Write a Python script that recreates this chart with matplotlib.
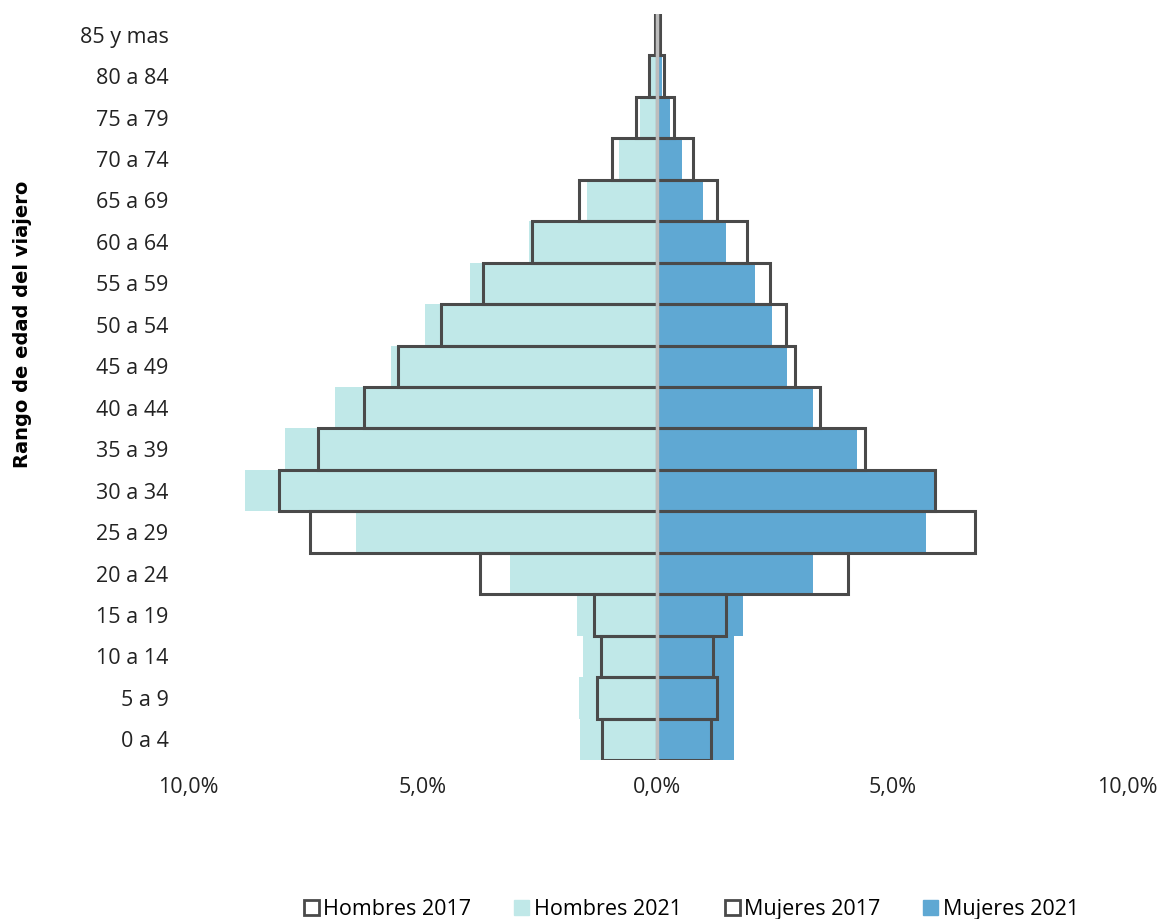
import numpy as np
import matplotlib.pyplot as plt
from matplotlib.patches import Patch
from matplotlib.ticker import FuncFormatter

# age groups, bottom to top
grupos = ['0 a 4', '5 a 9', '10 a 14', '15 a 19', '20 a 24', '25 a 29', '30 a 34',
          '35 a 39', '40 a 44', '45 a 49', '50 a 54', '55 a 59', '60 a 64',
          '65 a 69', '70 a 74', '75 a 79', '80 a 84', '85 y mas']

# shares in % of travellers
hombres_2017 = [1.19, 1.28, 1.21, 1.36, 3.79, 7.39, 8.05, 7.22, 6.24, 5.52,
                4.62, 3.71, 2.68, 1.68, 0.96, 0.45, 0.17, 0.06]
hombres_2021 = [1.66, 1.68, 1.58, 1.72, 3.15, 6.41, 8.78, 7.94, 6.86, 5.67,
                4.96, 4.00, 2.73, 1.51, 0.81, 0.38, 0.13, 0.04]
mujeres_2017 = [1.15, 1.26, 1.19, 1.47, 4.05, 6.77, 5.92, 4.41, 3.47, 2.94,
                2.73, 2.39, 1.90, 1.26, 0.75, 0.36, 0.15, 0.06]
mujeres_2021 = [1.64, 1.62, 1.62, 1.83, 3.32, 5.71, 5.90, 4.26, 3.32, 2.75,
                2.45, 2.07, 1.45, 0.96, 0.53, 0.26, 0.09, 0.04]

c_hom = '#c0e8e8'
c_muj = '#5fa8d3'
c_edge = '#4a4a4a'

plt.rcParams['font.family'] = ['Open Sans', 'DejaVu Sans']

fig = plt.figure(figsize=(11.58, 9.19), dpi=100)
ax = fig.add_axes([0.1623, 0.173, 0.8109, 0.8118])

y = np.arange(len(grupos))

ax.barh(y, -np.array(hombres_2021), height=1.0, color=c_hom, zorder=1)
ax.barh(y, mujeres_2021, height=1.0, color=c_muj, zorder=1)
ax.barh(y, -np.array(hombres_2017), height=1.0, fill=False, edgecolor=c_edge,
        linewidth=2.2, zorder=2)
ax.barh(y, mujeres_2017, height=1.0, fill=False, edgecolor=c_edge,
        linewidth=2.2, zorder=2)
ax.plot([0, 0], [-0.5, len(grupos) - 0.5], color='#bdbdbd', linewidth=2.5, zorder=3)

ax.set_xlim(-10, 10)
ax.set_ylim(-0.5, len(grupos) - 0.5)
ax.set_xticks([-10, -5, 0, 5, 10])
ax.xaxis.set_major_formatter(FuncFormatter(lambda v, p: f'{abs(v):.1f}%'.replace('.', ',')))
ax.set_yticks(y)
ax.set_yticklabels(grupos)
ax.tick_params(axis='both', length=0, labelsize=15.5, colors='#222222')
ax.tick_params(axis='y', pad=14)
ax.tick_params(axis='x', pad=12)
for s in ax.spines.values():
    s.set_visible(False)

fig.text(0.019, 0.647, 'Rango de edad del viajero', rotation=90, ha='center',
         va='center', fontsize=14, fontweight='bold', family='DejaVu Sans')

handles = [
    Patch(facecolor='white', edgecolor=c_edge, linewidth=2, label='Hombres 2017'),
    Patch(facecolor=c_hom, edgecolor=c_hom, label='Hombres 2021'),
    Patch(facecolor='white', edgecolor=c_edge, linewidth=2, label='Mujeres 2017'),
    Patch(facecolor=c_muj, edgecolor=c_muj, label='Mujeres 2021'),
]
fig.legend(handles=handles, loc='lower center', bbox_to_anchor=(0.597, -0.022),
           ncol=4, frameon=False, fontsize=15.5, handlelength=0.7, handleheight=0.7,
           handletextpad=0.2, columnspacing=2.0)

fig.savefig('out.png', dpi=100)
